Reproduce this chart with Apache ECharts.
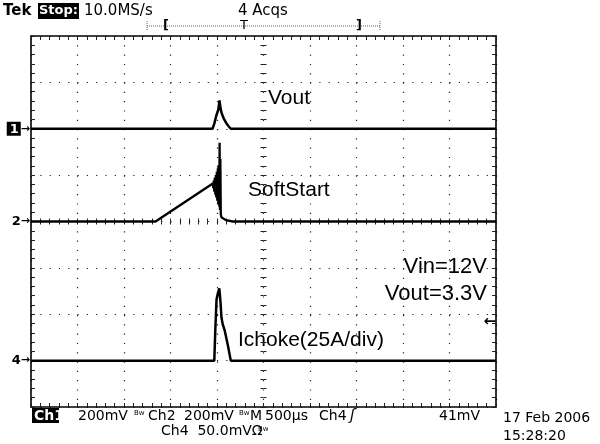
<!DOCTYPE html>
<html><head><meta charset="utf-8">
<script src="https://cdn.jsdelivr.net/npm/echarts@6/dist/echarts.min.js"></script>
<style>html,body{margin:0;padding:0;background:#fff}#c{width:600px;height:444px}</style>
</head><body><div id="c"></div>
<script>
// Horizontal: time in µs (M 500µs/div, 10 divisions). Vertical: screen divisions (-4..4)
const timeTicks = [0, 500, 1000, 1500, 2000, 2500, 3000, 3500, 4000, 4500, 5000];
const divTicks = [-4, -3, -2, -1, 0, 1, 2, 3, 4];
const channelMarkers = { '2': 'ch1', '0': 'ch2', '-3': 'ch4' };

// Ch1 — Vout (ground marker at +2 div)
const voutTime = [0, 1952, 1971, 1992, 2014, 2027, 2038, 2051, 2073, 2100, 2127, 2148, 5000];
const voutDiv  = [2.0, 2.0, 2.11, 2.28, 2.41, 2.61, 2.44, 2.33, 2.22, 2.12, 2.05, 2.0, 2.0];

// Ch2 — SoftStart (ground marker at 0 div), ramp then oscillation burst
const ssTime = [0, 1339, 1955, 1960, 1966, 1971, 1976, 1982, 1987, 1992, 1998, 2003, 2009, 2014, 2019, 2025, 2028, 2032, 2036, 2041, 2048, 2062, 2095, 2170, 5000];
const ssDiv  = [0, 0, 0.82, 0.72, 0.88, 0.64, 0.94, 0.58, 1.00, 0.52, 1.07, 0.45, 1.15, 0.38, 1.22, 0.32, 1.70, 0.25, 1.35, 0.15, 0.09, 0.06, 0.03, 0.0, 0];

// Ch4 — Ichoke (ground marker at -3 div)
const ichTime = [0, 1971, 1982, 1995, 2009, 2025, 2038, 2048, 2062, 2084, 2119, 2148, 5000];
const ichDiv  = [-3, -3, -2.33, -1.68, -1.55, -1.44, -1.75, -2.07, -2.22, -2.36, -2.69, -3, -3];

// Trigger level: Ch4 at 41mV, 50.0mV/div above Ch4 ground
const trigLevelDiv = -3 + 41 / 50;

const zip = (a, b) => a.map((v, i) => [v, b[i]]);

const chart = echarts.init(document.getElementById('c'), null, { renderer: 'canvas' });
const G = { left: 31, top: 36, width: 465, height: 371 };

function xAx(pos, offset, inside, len, line, split) {
  return {
    type: 'value', min: timeTicks[0], max: timeTicks[timeTicks.length - 1], interval: 500,
    position: pos, offset: offset,
    axisLine: { show: line, onZero: false, lineStyle: { color: '#000', width: 1.6 } },
    axisTick: { show: true, inside: inside, length: len, lineStyle: { color: '#222', width: 1 } },
    minorTick: { show: true, splitNumber: 5, length: len, lineStyle: { color: '#222', width: 1 } },
    axisLabel: { show: false },
    splitLine: { show: split, lineStyle: { color: '#222', width: 1.2, type: [1.2, 8.1] } }
  };
}
function yAx(pos, offset, inside, len, line, split, label) {
  return {
    type: 'value', min: divTicks[0], max: divTicks[divTicks.length - 1], interval: 1,
    position: pos, offset: offset,
    axisLine: { show: line, onZero: false, lineStyle: { color: '#000', width: 1.6 } },
    axisTick: { show: true, inside: inside, length: len, lineStyle: { color: '#222', width: 1 } },
    minorTick: { show: true, splitNumber: 5, length: len, lineStyle: { color: '#222', width: 1 } },
    axisLabel: label || { show: false },
    splitLine: { show: split, lineStyle: { color: '#222', width: 1.2, type: [1.2, 8.1] } }
  };
}

const markerLabel = {
  show: true, margin: 1, interval: 0,
  formatter: v => {
    const ch = channelMarkers[String(v)];
    if (ch === 'ch1') return '{inv|1}{arr|→}';
    if (ch === 'ch2') return '{num|2}{arr|→}';
    if (ch === 'ch4') return '{num|4}{arr|→}';
    return '';
  },
  rich: {
    inv: { backgroundColor: '#000', color: '#fff', fontFamily: 'DejaVu Sans', fontWeight: 'bold', fontSize: 13, padding: [1, 2, 0, 3] },
    num: { color: '#000', fontFamily: 'DejaVu Sans', fontWeight: 'bold', fontSize: 13, padding: [0, 0, 0, 0] },
    arr: { color: '#000', fontFamily: 'DejaVu Sans', fontWeight: 'bold', fontSize: 11 }
  }
};

const traceStyle = { color: '#000', width: 2.5 };

const option = {
  animation: false,
  backgroundColor: '#fff',
  grid: G,
  xAxis: [
    xAx('bottom', 0, true, 4, true, true),
    xAx('top', 0, true, 4, true, false),
    xAx('bottom', -G.height / 2, true, 3, false, false),
    xAx('bottom', -G.height / 2, false, 3, false, false)
  ],
  yAxis: [
    yAx('left', 0, true, 4, true, true, markerLabel),
    yAx('right', 0, true, 4, true, false),
    yAx('left', -G.width / 2, true, 3, false, false),
    yAx('left', -G.width / 2, false, 3, false, false)
  ],
  series: [
    { type: 'line', name: 'Vout', data: zip(voutTime, voutDiv), showSymbol: false, lineStyle: traceStyle, xAxisIndex: 0, yAxisIndex: 0 },
    { type: 'line', name: 'SoftStart', data: zip(ssTime, ssDiv), showSymbol: false, lineStyle: { color: '#000', width: 2.3 }, xAxisIndex: 0, yAxisIndex: 0 },
    { type: 'line', name: 'Ichoke', data: zip(ichTime, ichDiv), showSymbol: false, lineStyle: traceStyle, xAxisIndex: 0, yAxisIndex: 0,
      markPoint: { symbol: 'circle', symbolSize: 0, silent: true,
        data: [{ coord: [timeTicks[timeTicks.length - 1], trigLevelDiv], label: { show: true, formatter: '←', position: 'left', distance: 0, color: '#000', fontSize: 15, fontFamily: 'DejaVu Sans', fontWeight: 'bold' } }] } }
  ],
  graphic: [
    // top status line
    { type: 'text', left: 3, top: 4, style: { text: 'Tek', font: 'bold 15px "DejaVu Sans"', fill: '#000' } },
    { type: 'rect', shape: { x: 38, y: 3, width: 41, height: 16 }, style: { fill: '#000' } },
    { type: 'text', left: 39, top: 4, style: { text: 'Stop:', font: 'bold 13px "DejaVu Sans"', fill: '#fff' } },
    { type: 'text', left: 84, top: 4, style: { text: '10.0MS/s', font: '15px "DejaVu Sans"', fill: '#000' } },
    { type: 'text', left: 238, top: 4, style: { text: '4 Acqs', font: '15px "DejaVu Sans"', fill: '#000' } },
    // trigger window bracket
    { type: 'line', shape: { x1: 147, y1: 26, x2: 380, y2: 26 }, style: { stroke: '#666', lineWidth: 1, lineDash: [1, 1] } },
    { type: 'line', shape: { x1: 147, y1: 21, x2: 147, y2: 31 }, style: { stroke: '#666', lineWidth: 1, lineDash: [1, 1] } },
    { type: 'line', shape: { x1: 380, y1: 21, x2: 380, y2: 31 }, style: { stroke: '#666', lineWidth: 1, lineDash: [1, 1] } },
    { type: 'text', x: 163, y: 26, style: { text: '[', font: 'bold 13px "DejaVu Sans"', fill: '#000', textVerticalAlign: 'middle' } },
    { type: 'text', x: 240, y: 26, style: { text: 'T', font: '13px "DejaVu Sans"', fill: '#000', textVerticalAlign: 'middle' } },
    { type: 'text', x: 356, y: 26, style: { text: ']', font: 'bold 13px "DejaVu Sans"', fill: '#000', textVerticalAlign: 'middle' } },
    // in-plot annotations
    { type: 'text', x: 268, y: 98, style: { text: 'Vout', font: '21px "Liberation Sans"', fill: '#000', textVerticalAlign: 'middle' } },
    { type: 'text', x: 248, y: 190, style: { text: 'SoftStart', font: '21px "Liberation Sans"', fill: '#000', textVerticalAlign: 'middle' } },
    { type: 'text', x: 487, y: 267, style: { text: 'Vin=12V', font: '22px "Liberation Sans"', fill: '#000', textAlign: 'right', textVerticalAlign: 'middle' } },
    { type: 'text', x: 487, y: 294, style: { text: 'Vout=3.3V', font: '22px "Liberation Sans"', fill: '#000', textAlign: 'right', textVerticalAlign: 'middle' } },
    { type: 'text', x: 238, y: 340, style: { text: 'Ichoke(25A/div)', font: '21px "Liberation Sans"', fill: '#000', textVerticalAlign: 'middle' } },
    // bottom status
    { type: 'rect', shape: { x: 32, y: 408, width: 27, height: 15 }, style: { fill: '#000' } },
    { type: 'text', x: 34, y: 416, style: { text: 'Ch1', font: 'bold 14px "DejaVu Sans"', fill: '#fff', textVerticalAlign: 'middle' } },
    { type: 'text', x: 78, y: 416, style: { text: '200mV', font: '14px "DejaVu Sans"', fill: '#000', textVerticalAlign: 'middle' } },
    { type: 'text', x: 134, y: 413, style: { text: 'Bw', font: '7px "DejaVu Sans"', fill: '#000', textVerticalAlign: 'middle' } },
    { type: 'text', x: 148, y: 416, style: { text: 'Ch2', font: '14px "DejaVu Sans"', fill: '#000', textVerticalAlign: 'middle' } },
    { type: 'text', x: 184, y: 416, style: { text: '200mV', font: '14px "DejaVu Sans"', fill: '#000', textVerticalAlign: 'middle' } },
    { type: 'text', x: 239, y: 413, style: { text: 'Bw', font: '7px "DejaVu Sans"', fill: '#000', textVerticalAlign: 'middle' } },
    { type: 'text', x: 250, y: 416, style: { text: 'M', font: '14px "DejaVu Sans"', fill: '#000', textVerticalAlign: 'middle' } },
    { type: 'text', x: 265, y: 416, style: { text: '500µs', font: '14px "DejaVu Sans"', fill: '#000', textVerticalAlign: 'middle' } },
    { type: 'text', x: 319, y: 416, style: { text: 'Ch4', font: '14px "DejaVu Sans"', fill: '#000', textVerticalAlign: 'middle' } },
    { type: 'text', x: 350, y: 416, style: { text: 'ʃ', font: 'italic 15px "DejaVu Sans"', fill: '#000', textVerticalAlign: 'middle' } },
    { type: 'text', x: 480, y: 416, style: { text: '41mV', font: '14px "DejaVu Sans"', fill: '#000', textAlign: 'right', textVerticalAlign: 'middle' } },
    { type: 'text', x: 161, y: 431, style: { text: 'Ch4  50.0mVΩ', font: '14px "DejaVu Sans"', fill: '#000', textVerticalAlign: 'middle' } },
    { type: 'text', x: 258, y: 429, style: { text: 'Bw', font: '7px "DejaVu Sans"', fill: '#000', textVerticalAlign: 'middle' } },
    { type: 'text', x: 503, y: 418, style: { text: '17 Feb 2006', font: '14px "DejaVu Sans"', fill: '#000', textVerticalAlign: 'middle' } },
    { type: 'text', x: 503, y: 436, style: { text: '15:28:20', font: '14px "DejaVu Sans"', fill: '#000', textVerticalAlign: 'middle' } }
  ]
};
chart.setOption(option);
</script>
</body></html>
